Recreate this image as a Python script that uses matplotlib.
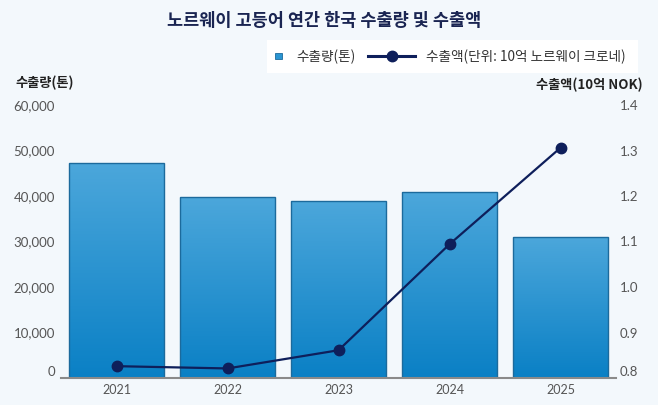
import matplotlib
matplotlib.use("Agg")
import matplotlib.pyplot as plt
import numpy as np
from matplotlib.colors import LinearSegmentedColormap
from matplotlib.lines import Line2D
from matplotlib.patches import Rectangle
from matplotlib.legend_handler import HandlerBase

years = ["2021", "2022", "2023", "2024", "2025"]
volume_tons = [47300, 39800, 39000, 40850, 31000]
value_bn_nok = [0.826, 0.821, 0.861, 1.094, 1.306]
left_ticks = [0, 10000, 20000, 30000, 40000, 50000, 60000]
left_tick_labels = ["0", "10,000", "20,000", "30,000", "40,000", "50,000", "60,000"]
right_ticks = [0.8, 0.9, 1.0, 1.1, 1.2, 1.3, 1.4]
right_tick_labels = ["0.8", "0.9", "1.0", "1.1", "1.2", "1.3", "1.4"]

title = "노르웨이 고등어 연간 한국 수출량 및 수출액"
left_label = "수출량(톤)"
right_label = "수출액(10억 NOK)"
legend_bar = "수출량(톤)"
legend_line = "수출액(단위: 10억 노르웨이 크로네)"

FONT = ["Lato", "Noto Sans CJK KR", "DejaVu Sans"]
KFONT = ["Noto Sans CJK KR", "DejaVu Sans"]
plt.rcParams["font.family"] = KFONT

BG = "#f3f8fc"
NAVY = "#0e1f5b"
TICK_C = "#555555"
BAR_EDGE = "#1c6a9c"

fig = plt.figure(figsize=(6.58, 4.05), dpi=100, facecolor=BG)
ax = fig.add_axes([61/658, 1-378/405, (616-61)/658, (378-105)/405])
ax.set_facecolor(BG)

x = np.arange(len(years))
bars = ax.bar(x, volume_tons, width=0.85, facecolor="none",
              edgecolor=BAR_EDGE, linewidth=1.0, zorder=3)
cmap = LinearSegmentedColormap.from_list("g", ["#0a80c5", "#4ca7db"])
grad = np.linspace(0, 1, 256).reshape(-1, 1)
for r in bars:
    x0, y0 = r.get_x(), r.get_y()
    w, h = r.get_width(), r.get_height()
    im = ax.imshow(grad, extent=[x0, x0 + w, y0, y0 + h], origin="lower",
                   aspect="auto", cmap=cmap, zorder=2)
    im.set_clip_path(r)

ax.set_xlim(-0.5, 4.5)
ax.set_ylim(0, 60000)
ax.set_xticks(x)
ax.set_xticklabels(years, family=FONT, fontsize=9, color=TICK_C)
ax.set_yticks(left_ticks)
ax.set_yticklabels(left_tick_labels, family=FONT, fontsize=9.5, color=TICK_C)
ax.tick_params(axis="y", length=0, pad=4.5)
ax.tick_params(axis="x", length=0, pad=4)
for s in ["top", "left", "right"]:
    ax.spines[s].set_visible(False)
ax.spines["bottom"].set_color("#8a8a8a")
ax.spines["bottom"].set_linewidth(1.5)
ax.spines["bottom"].set_zorder(4)

ax2 = ax.twinx()
ax2.plot(x, value_bn_nok, color=NAVY, linewidth=1.6, marker="o",
         markersize=7.5, zorder=5)
ax2.set_ylim(0.8, 1.4)
ax2.set_yticks(right_ticks)
ax2.set_yticklabels(right_tick_labels, family=FONT, fontsize=9.5, color=TICK_C)
ax2.tick_params(axis="y", length=0, pad=2.5)
for s in ["top", "left", "right", "bottom"]:
    ax2.spines[s].set_visible(False)

ax.yaxis.get_major_ticks()[0].label1.set_verticalalignment("bottom")
ax2.yaxis.get_major_ticks()[0].label2.set_verticalalignment("bottom")

fig.text(324.5/658, 1-21/405, title, ha="center", va="center", fontsize=12.6,
         fontweight="bold", color="#1a2552", family=KFONT)
fig.text(15/658, 1-83/405, left_label, ha="left", va="center", fontsize=9.5,
         fontweight="bold", color="#222222", family=KFONT)
fig.text(643/658, 1-85/405, right_label, ha="right", va="center", fontsize=9.5,
         fontweight="bold", color="#222222", family=KFONT)

# legend background box
fig.patches.append(Rectangle((267/658, 1-73/405), 371/658, 33/405,
                             transform=fig.transFigure, facecolor="white",
                             edgecolor="none", zorder=1))


class SquareHandler(HandlerBase):
    def create_artists(self, legend, orig_handle, xdescent, ydescent,
                       width, height, fontsize, trans):
        s = 5.0
        gap = 1.5
        rx = -xdescent + width - s - gap
        ry = -ydescent + height / 2 - s / 2
        rect = Rectangle((rx, ry), s, s, facecolor="#2a95d2",
                         edgecolor=BAR_EDGE, linewidth=0.6, transform=trans)
        return [rect]


sq_handle = Rectangle((0, 0), 1, 1)
line_handle = Line2D([], [], color=NAVY, linewidth=2.2, marker="o", markersize=7.5)
leg = fig.legend([sq_handle, line_handle], [legend_bar, legend_line],
                 loc="center right", bbox_to_anchor=(626/658, 1-56.5/405),
                 ncol=2, frameon=False, borderpad=0, borderaxespad=0,
                 handlelength=3.4, columnspacing=0.95, handletextpad=0.86,
                 handler_map={Rectangle: SquareHandler()},
                 prop={"family": KFONT, "size": 9.8})
leg.set_zorder(3)
for t in leg.get_texts():
    t.set_color("#333333")

fig.savefig("out.png", dpi=100, facecolor=BG)
